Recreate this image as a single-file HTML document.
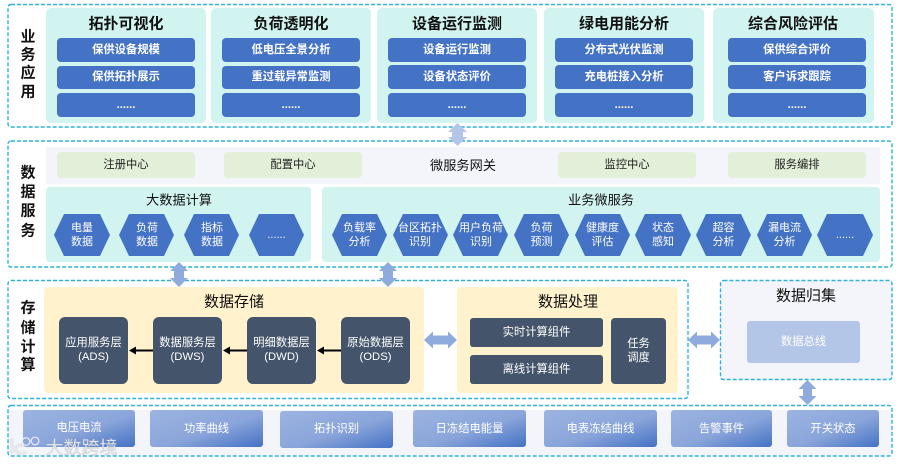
<!DOCTYPE html>
<html lang="zh">
<head>
<meta charset="utf-8">
<title>架构图</title>
<style>
html,body{margin:0;padding:0;background:#fff;width:900px;height:464px;overflow:hidden}
svg{display:block}
text{font-family:"Liberation Sans","Noto Sans CJK SC",sans-serif;text-anchor:middle;dominant-baseline:central}
.d{fill:none;stroke:#2fb2d9;stroke-width:1.4;stroke-dasharray:4 2}
.t{font-size:15px;font-weight:bold;fill:#111}
.s{font-size:15px;font-weight:bold;fill:#111}
.b{font-size:11.3px;font-weight:bold;fill:#fff}
.g{font-size:11.3px;fill:#222}
.h{font-size:13.2px;fill:#111}
.w{font-size:11.3px;fill:#fff}
.x{font-size:11px;fill:#fff}
.k{font-size:15px;fill:#111}
.hx{fill:#4472c4}
.dk{fill:#44546a}
.card{fill:#d2f4f0}
.btn{fill:#4472c4}
.grn{fill:#e2f0d9}
.yl{fill:#fff2cc}
.ar{fill:#8faadc}
.src{fill:url(#gr)}
</style>
</head>
<body>
<svg width="900" height="464" viewBox="0 0 900 464" xmlns="http://www.w3.org/2000/svg">
<defs>
<linearGradient id="gr" x1="0" y1="0" x2="1" y2="1">
<stop offset="0" stop-color="#9db4e2"/>
<stop offset="0.55" stop-color="#8aa5da"/>
<stop offset="1" stop-color="#4472c4"/>
</linearGradient>
</defs>
<rect width="900" height="464" fill="#fff"/>

<!-- Row 1 -->
<rect class="d" x="8" y="4.500" width="884" height="122.500" rx="3"/>
<text class="s" x="28" y="37">业</text><text class="s" x="28" y="55">务</text><text class="s" x="28" y="73">应</text><text class="s" x="28" y="92">用</text>

<rect class="card" x="46" y="8" width="160" height="115" rx="5"/>
<rect class="card" x="211" y="8" width="160" height="115" rx="5"/>
<rect class="card" x="377" y="8" width="160" height="115" rx="5"/>
<rect class="card" x="544" y="8" width="160" height="115" rx="5"/>
<rect class="card" x="713" y="8" width="161" height="115" rx="5"/>

<text class="t" x="126" y="24">拓扑可视化</text>
<text class="t" x="291" y="24">负荷透明化</text>
<text class="t" x="457" y="24">设备运行监测</text>
<text class="t" x="624" y="24">绿电用能分析</text>
<text class="t" x="793" y="24">综合风险评估</text>

<rect class="btn" x="57" y="38" width="138" height="24" rx="4"/><rect class="btn" x="57" y="66" width="138" height="23" rx="4"/><rect class="btn" x="57" y="93" width="138" height="24" rx="4"/>
<rect class="btn" x="222" y="38" width="138" height="24" rx="4"/><rect class="btn" x="222" y="66" width="138" height="23" rx="4"/><rect class="btn" x="222" y="93" width="138" height="24" rx="4"/>
<rect class="btn" x="388" y="38" width="138" height="24" rx="4"/><rect class="btn" x="388" y="65" width="138" height="24" rx="4"/><rect class="btn" x="388" y="93" width="138" height="24" rx="4"/>
<rect class="btn" x="555" y="38" width="138" height="24" rx="4"/><rect class="btn" x="555" y="65" width="138" height="24" rx="4"/><rect class="btn" x="555" y="93" width="138" height="24" rx="4"/>
<rect class="btn" x="728" y="38" width="138" height="24" rx="4"/><rect class="btn" x="728" y="65" width="138" height="24" rx="4"/><rect class="btn" x="728" y="93" width="138" height="24" rx="4"/>

<text class="b" x="126" y="50">保供设备规模</text><text class="b" x="126" y="77">保供拓扑展示</text><text class="b" x="126" y="105">......</text>
<text class="b" x="291" y="50">低电压全景分析</text><text class="b" x="291" y="77">重过载异常监测</text><text class="b" x="291" y="105">......</text>
<text class="b" x="457" y="50">设备运行监测</text><text class="b" x="457" y="77">设备状态评价</text><text class="b" x="457" y="105">......</text>
<text class="b" x="624" y="50">分布式光伏监测</text><text class="b" x="624" y="77">充电桩接入分析</text><text class="b" x="624" y="105">......</text>
<text class="b" x="797" y="50">保供综合评价</text><text class="b" x="797" y="77">客户诉求跟踪</text><text class="b" x="797" y="105">......</text>

<!-- Row 2 -->
<rect class="d" x="8" y="141" width="884" height="126" rx="3"/>
<text class="s" x="28" y="173">数</text><text class="s" x="28" y="192">据</text><text class="s" x="28" y="211">服</text><text class="s" x="28" y="231">务</text>

<rect x="46" y="147" width="834" height="37" fill="#f3f5fa"/>
<rect class="grn" x="57" y="152" width="138" height="26" rx="4"/>
<rect class="grn" x="224" y="152" width="138" height="26" rx="4"/>
<rect class="grn" x="558" y="152" width="138" height="26" rx="4"/>
<rect class="grn" x="728" y="152" width="138" height="26" rx="4"/>
<text class="g" x="126" y="165">注册中心</text>
<text class="g" x="293" y="165">配置中心</text>
<text class="h" x="463" y="165.500">微服务网关</text>
<text class="g" x="627" y="165">监控中心</text>
<text class="g" x="797" y="165">服务编排</text>

<rect class="card" x="46" y="187" width="265" height="75" rx="4"/>
<rect class="card" x="322" y="187" width="558" height="75" rx="4"/>
<text class="h" x="179" y="200">大数据计算</text>
<text class="h" x="601" y="200">业务微服务</text>

<polygon class="hx" points="64,214 100,214 110,235 100,256 64,256 54,235"/>
<polygon class="hx" points="129,214 164,214 174,235 164,256 129,256 119,235"/>
<polygon class="hx" points="194,214 229,214 239,235 229,256 194,256 184,235"/>
<polygon class="hx" points="259,214 294,214 304,235 294,256 259,256 249,235"/>
<polygon class="hx" points="342,214 377,214 387,235 377,256 342,256 332,235"/>
<polygon class="hx" points="403,214 438,214 448,235 438,256 403,256 393,235"/>
<polygon class="hx" points="463,214 498,214 508,235 498,256 463,256 453,235"/>
<polygon class="hx" points="524,214 559,214 569,235 559,256 524,256 514,235"/>
<polygon class="hx" points="585,214 620,214 630,235 620,256 585,256 575,235"/>
<polygon class="hx" points="645,214 681,214 691,235 681,256 645,256 635,235"/>
<polygon class="hx" points="706,214 741,214 751,235 741,256 706,256 696,235"/>
<polygon class="hx" points="767,214 802,214 812,235 802,256 767,256 757,235"/>
<polygon class="hx" points="827,214 863,214 873,235 863,256 827,256 817,235"/>

<text class="x" x="82" y="228">电量</text><text class="x" x="82" y="242">数据</text>
<text class="x" x="147" y="228">负荷</text><text class="x" x="147" y="242">数据</text>
<text class="x" x="212" y="228">指标</text><text class="x" x="212" y="242">数据</text>
<text class="x" x="276.500" y="235">......</text>
<text class="x" x="359.500" y="228">负载率</text><text class="x" x="359.500" y="242">分析</text>
<text class="x" x="420" y="228">台区拓扑</text><text class="x" x="420" y="242">识别</text>
<text class="x" x="481" y="228">用户负荷</text><text class="x" x="481" y="242">识别</text>
<text class="x" x="541.500" y="228">负荷</text><text class="x" x="541.500" y="242">预测</text>
<text class="x" x="602.500" y="228">健康度</text><text class="x" x="602.500" y="242">评估</text>
<text class="x" x="663" y="228">状态</text><text class="x" x="663" y="242">感知</text>
<text class="x" x="723.500" y="228">超容</text><text class="x" x="723.500" y="242">分析</text>
<text class="x" x="784.500" y="228">漏电流</text><text class="x" x="784.500" y="242">分析</text>
<text class="x" x="845" y="235">......</text>

<!-- Row 3 -->
<rect class="d" x="8" y="280.500" width="680" height="118" rx="3"/>
<text class="s" x="28" y="308">存</text><text class="s" x="28" y="328">储</text><text class="s" x="28" y="347">计</text><text class="s" x="28" y="365">算</text>

<rect class="yl" x="44" y="287" width="380" height="106" rx="4"/>
<text class="k" x="234" y="302">数据存储</text>
<rect class="dk" x="59" y="317" width="69" height="67" rx="6"/>
<rect class="dk" x="153" y="317" width="69" height="67" rx="6"/>
<rect class="dk" x="247" y="317" width="69" height="67" rx="6"/>
<rect class="dk" x="341" y="317" width="69" height="67" rx="6"/>
<text class="w" x="93.500" y="343">应用服务层</text><text class="w" x="93.500" y="357">(ADS)</text>
<text class="w" x="187.500" y="343">数据服务层</text><text class="w" x="187.500" y="357">(DWS)</text>
<text class="w" x="281.500" y="343">明细数据层</text><text class="w" x="281.500" y="357">(DWD)</text>
<text class="w" x="375.500" y="343">原始数据层</text><text class="w" x="375.500" y="357">(ODS)</text>

<line x1="153" y1="350.500" x2="133" y2="350.500" stroke="#000" stroke-width="2"/><polygon points="129,350.500 136,346.500 136,354.500" fill="#000"/>
<line x1="247" y1="350.500" x2="227" y2="350.500" stroke="#000" stroke-width="2"/><polygon points="223,350.500 230,346.500 230,354.500" fill="#000"/>
<line x1="341" y1="350.500" x2="321" y2="350.500" stroke="#000" stroke-width="2"/><polygon points="317,350.500 324,346.500 324,354.500" fill="#000"/>

<rect class="yl" x="457" y="287" width="221" height="106" rx="4"/>
<text class="k" x="568" y="302">数据处理</text>
<rect class="dk" x="470" y="318" width="133" height="29" rx="3"/>
<rect class="dk" x="470" y="355" width="133" height="29" rx="3"/>
<rect class="dk" x="611" y="318" width="55" height="66" rx="4"/>
<text class="w" x="536.500" y="332.500">实时计算组件</text>
<text class="w" x="536.500" y="369.500">离线计算组件</text>
<text class="w" x="638.500" y="344">任务</text><text class="w" x="638.500" y="358">调度</text>

<rect x="720.500" y="280.500" width="171.500" height="99" rx="3" fill="#f3f5fa"/>
<rect class="d" x="720.500" y="280.500" width="171.500" height="99" rx="3"/>
<text class="k" x="806" y="296">数据归集</text>
<rect x="747" y="321" width="113" height="42" rx="3" fill="#b4c6e7"/>
<text class="w" x="803.500" y="342">数据总线</text>

<!-- Row 4 -->
<rect x="8" y="410" width="884" height="45" fill="#f3f5fa"/>
<rect class="d" x="8" y="405.500" width="884" height="50.500" rx="3"/>
<rect class="src" x="23" y="410" width="112" height="37" rx="3"/>
<rect class="src" x="150" y="410" width="113" height="37" rx="3"/>
<rect class="src" x="280" y="411" width="113" height="37" rx="3"/>
<rect class="src" x="413" y="410" width="113" height="37" rx="3"/>
<rect class="src" x="544" y="410" width="113" height="37" rx="3"/>
<rect class="src" x="671" y="410" width="101" height="37" rx="3"/>
<rect class="src" x="787" y="410" width="92" height="37" rx="3"/>
<text class="w" x="79" y="428">电压电流</text>
<text class="w" x="206.500" y="429">功率曲线</text>
<text class="w" x="336.500" y="429">拓扑识别</text>
<text class="w" x="469.500" y="429">日冻结电能量</text>
<text class="w" x="600.500" y="429">电表冻结曲线</text>
<text class="w" x="721.500" y="429">告警事件</text>
<text class="w" x="833" y="429">开关状态</text>

<!-- Connector arrows -->
<polygon fill="#b4c6e7" points="457.500,123 467,132 463,132 463,137 467,137 457.500,146 448,137 452,137 452,132 448,132"/>
<polygon class="ar" points="179,262 188,271 184,271 184,278 188,278 179,287 170,278 174,278 174,271 170,271"/>
<polygon class="ar" points="388,262 397,271 393,271 393,278 397,278 388,287 379,278 383,278 383,271 379,271"/>
<polygon class="ar" points="424,340 433,331.500 433,335.500 448,335.500 448,331.500 457,340 448,348.500 448,344.500 433,344.500 433,348.500"/>
<polygon class="ar" points="688,340 697,331.500 697,335.500 711,335.500 711,331.500 720,340 711,348.500 711,344.500 697,344.500 697,348.500"/>
<polygon class="ar" points="807.500,380 816.500,389 812,389 812,396 816.500,396 807.500,405 798.500,396 803,396 803,389 798.500,389"/>

<!-- Watermark -->
<g>
<circle cx="26" cy="441.500" r="3.800" fill="none" stroke="#eceef2" stroke-width="1.200"/>
<circle cx="35" cy="441" r="3.800" fill="none" stroke="#eceef2" stroke-width="1.200"/>
<path d="M12 438 V453 M24 445 C16 445 14 448 16 451 C18 454 22 454 26 452" fill="none" stroke="#e6e8ec" stroke-width="4"/>
<text x="81.500" y="448" style="font-size:18px;fill:#e8eaee;stroke:#a4a8b0;stroke-width:.35px;stroke-opacity:.7">大数跨境</text>
</g>
</svg>
</body>
</html>
